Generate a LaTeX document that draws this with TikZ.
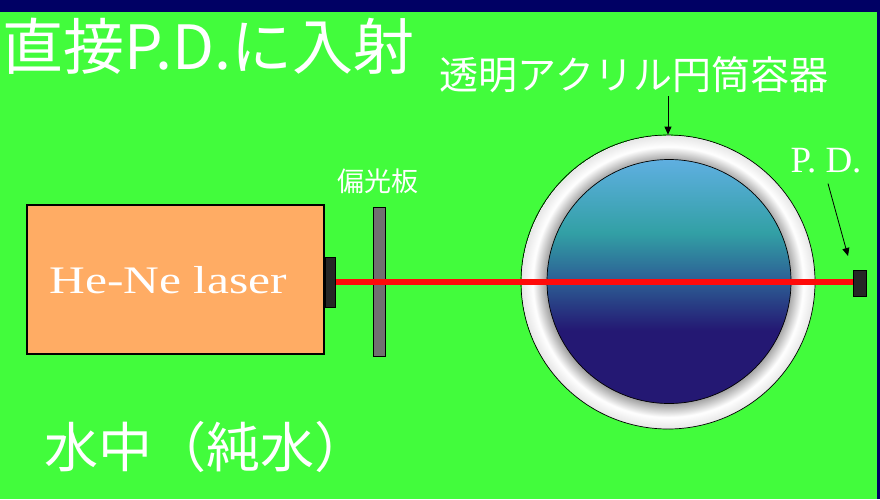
\documentclass[tikz,border=0pt]{standalone}
\usepackage{fontspec}
\usetikzlibrary{arrows.meta,calc}
\newfontfamily\jpfont{Noto Sans CJK JP}
\newfontfamily\labserif[FakeStretch=1.27]{Liberation Serif}
\newfontfamily\pdserif{Liberation Serif}

\definecolor{bggreen}{RGB}{66,252,60}
\definecolor{topnavy}{RGB}{0,0,100}
\definecolor{laserorange}{RGB}{255,172,100}
\definecolor{plategray}{RGB}{112,112,112}
\definecolor{beamred}{RGB}{255,10,10}
\definecolor{wtop}{RGB}{95,175,225}
\definecolor{wteal}{RGB}{50,160,165}
\definecolor{wmid}{RGB}{45,100,150}
\definecolor{wdeep}{RGB}{36,24,115}
\definecolor{ringgray}{RGB}{120,120,120}

% water column: light blue at the top fading to deep indigo
\pgfdeclareverticalshading{water}{100bp}{%
  color(0bp)=(wdeep); color(25bp)=(wdeep); color(40bp)=(wdeep);
  color(51bp)=(wmid); color(60bp)=(wteal); color(75bp)=(wtop); color(100bp)=(wtop)}
% acrylic wall: shadowed at the inner edge, bright at the outside
\pgfdeclareradialshading{acrylic}{\pgfpoint{0bp}{0bp}}{%
  color(0bp)=(ringgray); color(20.5bp)=(ringgray!75!white);
  color(23bp)=(white); color(24.2bp)=(white!94!black); color(25bp)=(white!90!black)}

\begin{document}
\begin{tikzpicture}[x=1pt,y=-1pt,
  lbl/.style={text=white,inner sep=0pt,font=\jpfont},
  pointer/.style={draw=black,line width=0.8pt,-{Triangle[length=8pt,width=7pt]}},
  darkpart/.style={draw=black,line width=0.6pt,fill=black!85}]
  % background and frame bands
  \fill[bggreen] (0,0) rectangle (880,499);
  \fill[topnavy] (0,0) rectangle (880,12);
  \fill[topnavy] (877,0) rectangle (880,499);
  \useasboundingbox (0,0) rectangle (880,499);

  % titles and captions
  \node[lbl,anchor=west,font=\jpfont\fontsize{61}{64}\selectfont] (title) at (2,46) {直接P.D.に入射};
  \node[lbl,font=\jpfont\fontsize{39}{42}\selectfont] (acryl) at (634,75) {透明アクリル円筒容器};
  \node[lbl,font=\jpfont\fontsize{27}{30}\selectfont] (polar) at (378,181) {偏光板};
  \node[lbl,anchor=west,font=\jpfont\fontsize{54}{58}\selectfont] (water) at (44,447) {水中（純水）};
  \node[lbl,font=\pdserif\fontsize{37}{40}\selectfont] (pdlabel) at (826,161) {P. D.};

  % He-Ne laser head with output aperture
  \node[draw=black,line width=2pt,fill=laserorange,minimum width=297,minimum height=149,
        inner sep=0pt] (laser) at (175.5,279.5) {};
  \node[text=white,font=\labserif\fontsize{39}{42}\selectfont] (lasertext) at (168.5,280) {He-Ne laser};
  \node[darkpart,minimum width=10,minimum height=50,inner sep=0pt,anchor=west] (aperture)
        at (laser.east |- 0,282) {};

  % polarizing plate
  \node[draw=black,line width=0.8pt,fill=plategray,minimum width=12,minimum height=149,
        inner sep=0pt] (plate) at (379,281.5) {};

  % acrylic cylinder filled with water
  \node[circle,draw=black,line width=0.7pt,shading=acrylic,minimum size=294,inner sep=0pt]
        (tube) at (668,282) {};
  \node[circle,draw=black,line width=0.7pt,shading=water,minimum size=244,inner sep=0pt]
        (core) at (669,281.5) {};

  % photodiode
  \node[darkpart,minimum width=13,minimum height=26,inner sep=0pt] (pd) at (859.5,283.5) {};

  % laser beam
  \draw[beamred,line width=5.5pt] (aperture.east) -- (aperture.east -| pd.west);

  % pointers
  \draw[pointer] (tube.north |- acryl.south) ++(0,3) -- (tube.north);
  \coordinate (pdtip) at (848,256);
  \draw[pointer] ($(pdlabel.south)+(2,10)$) -- (pdtip);
\end{tikzpicture}
\end{document}
